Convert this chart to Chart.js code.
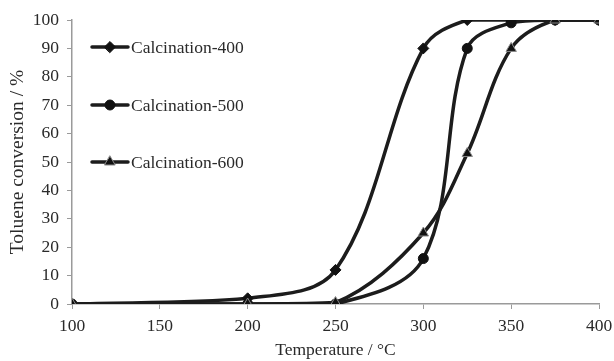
<!DOCTYPE html>
<html lang="en">
<head>
  <meta charset="UTF-8">
  <title>Toluene conversion</title>
  <script src="https://cdn.jsdelivr.net/npm/chart.js"></script>
  <style>
    html, body { margin: 0; padding: 0; background: #fff; }
    #wrap { width: 614px; height: 361px; }
  </style>
</head>
<body>
  <div id="wrap"><canvas id="conv" width="614" height="361"></canvas></div>
  <script>
    // temperatures (°C) and conversion (%)
    const temps = [100, 200, 250, 300, 325, 350, 375, 400];
    const calc400 = [0, 2, 12, 90, 100, 100, 100, 100];
    const calc500 = [0, 0, 0, 16, 90, 99, 100, 100];
    const calc600 = [0, 0, 0.5, 25, 53, 90, 100, 100];
    const seriesNames = ['Calcination-400', 'Calcination-500', 'Calcination-600'];
    const xTicks = [100, 150, 200, 250, 300, 350, 400];

    const serif = '"Liberation Serif", "Times New Roman", serif';
    const textCol = '#2a2a2a';
    const toPts = vals => vals.map((v, i) => ({ x: temps[i], y: v }));

    // legend drawn inside the plot, stacked on the left
    const insideLegend = {
      id: 'insideLegend',
      afterDatasetsDraw(chart) {
        const { ctx, chartArea } = chart;
        const rows = [27, 85, 142];
        chart.data.datasets.forEach((ds, i) => {
          const y = chartArea.top + rows[i];
          const x0 = chartArea.left + 20;
          ctx.save();
          ctx.strokeStyle = ds.borderColor;
          ctx.lineWidth = 3.5;
          ctx.lineCap = 'round';
          ctx.beginPath();
          ctx.moveTo(x0, y);
          ctx.lineTo(x0 + 36, y);
          ctx.stroke();
          ctx.fillStyle = ds.pointBackgroundColor;
          ctx.strokeStyle = ds.pointBorderColor;
          ctx.lineWidth = ds.pointBorderWidth;
          Chart.helpers.drawPoint(ctx, { pointStyle: ds.pointStyle, radius: ds.pointRadius, rotation: 0, borderWidth: ds.pointBorderWidth }, x0 + 18, y);
          ctx.fillStyle = textCol;
          ctx.font = '17.5px ' + serif;
          ctx.textBaseline = 'middle';
          ctx.fillText(ds.label, x0 + 39, y + 1);
          ctx.restore();
        });
      }
    };

    const mk = (label, vals, style, fill, border, r, order) => ({
      label: label,
      data: toPts(vals),
      order: order,
      borderColor: '#1c1c1c',
      borderWidth: 3.5,
      tension: 0.35,
      pointStyle: style,
      pointRadius: r,
      pointBackgroundColor: fill,
      pointBorderColor: border,
      pointBorderWidth: 1
    });

    new Chart(document.getElementById('conv'), {
      type: 'line',
      data: {
        datasets: [
          mk(seriesNames[0], calc400, 'rectRot', '#111', '#111', 5.5, 2),
          mk(seriesNames[1], calc500, 'circle', '#111', '#111', 5, 1),
          mk(seriesNames[2], calc600, 'triangle', '#111', '#8a8a8a', 6, 0)
        ]
      },
      options: {
        responsive: false,
        animation: false,
        layout: { padding: { top: 20, right: 0, left: 0, bottom: 0 } },
        plugins: { legend: { display: false }, tooltip: { enabled: false } },
        scales: {
          x: {
            type: 'linear',
            min: 100, max: 400,
            afterBuildTicks: s => { s.ticks = xTicks.map(v => ({ value: v })); },
            afterFit: s => { s.height = 57; s.paddingRight = 15; },
            border: { color: '#9a9a9a', width: 1.5 },
            grid: { drawOnChartArea: false, drawTicks: true, tickLength: 5, color: '#9a9a9a' },
            ticks: { color: textCol, font: { family: serif, size: 17.5 }, padding: 7, maxRotation: 0 },
            title: { display: true, text: 'Temperature / °C', color: textCol, font: { family: serif, size: 17.5 }, padding: { top: 0, bottom: 0 } }
          },
          y: {
            min: 0, max: 100,
            afterFit: s => { s.width = 72; },
            border: { color: '#9a9a9a', width: 1.5 },
            grid: { drawOnChartArea: false, drawTicks: true, tickLength: 5, color: '#9a9a9a' },
            ticks: { stepSize: 10, color: textCol, font: { family: serif, size: 17.5 }, padding: 8 },
            title: { display: true, text: 'Toluene conversion / %', color: textCol, font: { family: serif, size: 19.5 }, padding: { top: 6, bottom: 0 } }
          }
        }
      },
      plugins: [insideLegend]
    });
  </script>
</body>
</html>
